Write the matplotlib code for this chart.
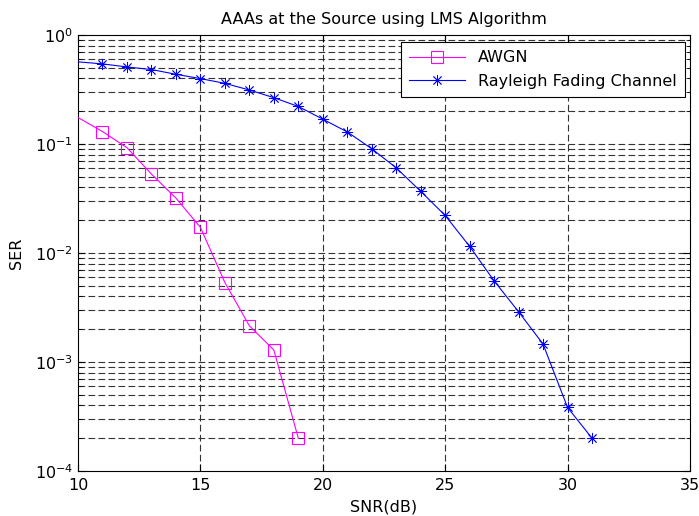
"""
SER vs SNR for AAAs at the source (LMS algorithm), MATLAB-style semilogy figure.
"""

import matplotlib

matplotlib.use("Agg")

import matplotlib.pyplot as plt

plt.rcParams["font.family"] = ["DejaVu Sans"]
plt.rcParams["mathtext.fontset"] = "dejavusans"

# values
snr_awgn = [10, 11, 12, 13, 14, 15, 16, 17, 18, 19]
ser_awgn = [0.175, 0.130, 0.0925, 0.053, 0.0319, 0.0172, 0.00536, 0.00215, 0.00129, 0.0002]

snr_rayleigh = [10, 11, 12, 13, 14, 15, 16, 17, 18, 19, 20,
                21, 22, 23, 24, 25, 26, 27, 28, 29, 30, 31]
ser_rayleigh = [0.567, 0.543, 0.509, 0.482, 0.436, 0.398, 0.360, 0.313, 0.266, 0.221, 0.169,
                0.129, 0.0905, 0.0604, 0.0368, 0.0221, 0.0115, 0.00555, 0.00289, 0.00146,
                0.000383, 0.0002]

x_ticks = [10, 15, 20, 25, 30, 35]

GRID_DASHES = (6, 3)
FONT_SIZE = 11.5


def main() -> None:
    fig = plt.figure(figsize=(6.99, 5.16), dpi=100)
    ax = fig.add_axes([0.1116, 0.0872, 0.8754, 0.845])

    ax.semilogy(
        snr_awgn, ser_awgn,
        color="magenta", linewidth=0.8,
        marker="s", markersize=8.5, markerfacecolor="none",
        markeredgecolor="magenta", markeredgewidth=0.8,
        markevery=slice(1, None),
        label="AWGN",
        zorder=3,
    )
    ax.semilogy(
        snr_rayleigh, ser_rayleigh,
        color="blue", linewidth=0.8,
        marker=(8, 2, 0), markersize=8,
        markeredgecolor="blue", markeredgewidth=0.6,
        markevery=slice(1, None),
        label="Rayleigh Fading Channel",
        zorder=3,
    )

    ax.set_xlim(10, 35)
    ax.set_ylim(1e-4, 1e0)
    ax.set_xticks(x_ticks)

    # MATLAB-like grid: dashed, vertical majors, horizontal majors + minors
    for x in x_ticks[1:-1]:
        ax.axvline(x, color="#333333", linewidth=0.8, dashes=GRID_DASHES, zorder=0)
    for dec in range(-4, 0):
        for m in range(1, 10):
            y = m * 10.0 ** dec
            if 1e-4 < y < 1:
                ax.axhline(y, color="#333333", linewidth=0.8, dashes=GRID_DASHES, zorder=0)

    ax.tick_params(which="both", direction="in", top=True, right=True, labelsize=FONT_SIZE)
    ax.tick_params(which="major", length=5)
    ax.tick_params(which="minor", length=3)
    ax.tick_params(axis="x", pad=5)
    for spine in ax.spines.values():
        spine.set_linewidth(0.8)

    ax.set_title("AAAs at the Source using LMS Algorithm", fontsize=FONT_SIZE, pad=8)
    ax.set_xlabel("SNR(dB)", fontsize=FONT_SIZE, labelpad=5)
    ax.set_ylabel("SER", fontsize=FONT_SIZE, labelpad=8)

    legend = ax.legend(
        loc="upper right",
        bbox_to_anchor=(0.9915, 0.9835),
        fontsize=FONT_SIZE,
        fancybox=False,
        framealpha=1,
        edgecolor="black",
        borderaxespad=0,
        handlelength=3.5,
        labelspacing=0.55,
        borderpad=0.5,
    )
    legend.get_frame().set_linewidth(0.8)

    fig.savefig("out.png", dpi=100)
    plt.close("all")


if __name__ == "__main__":
    main()
